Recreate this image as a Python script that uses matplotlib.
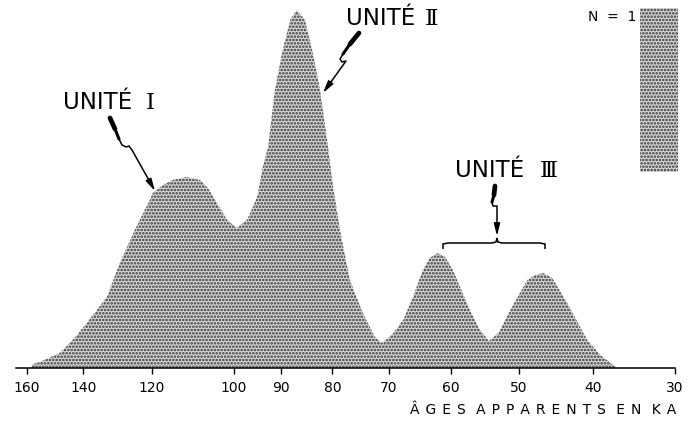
# -*- coding: utf-8 -*-
import numpy as np
import matplotlib
matplotlib.use('Agg')
import matplotlib.pyplot as plt
from matplotlib.path import Path
from matplotlib.patches import FancyArrowPatch, PathPatch, Rectangle
from matplotlib.lines import Line2D
from matplotlib.ticker import NullLocator
from matplotlib.transforms import Affine2D

# summed age spectrum: apparent age (ka) vs density (arbitrary units)
ages = [158.5, 157.6, 155.0, 147.9, 143.5, 138.9, 132.7, 128.9, 124.6, 120.5,
        119.7, 117.0, 114.5, 111.0, 107.8, 105.9, 103.8, 101.5, 99.3, 97.1,
        95.8, 94.9, 93.7, 92.6, 91.2, 89.6, 88.1, 86.8, 85.2, 83.8,
        82.3, 80.8, 79.9, 78.6, 76.8, 74.5, 72.4, 71.2, 69.5, 67.6,
        66.0, 64.4, 63.3, 62.0, 60.9, 59.7, 57.1, 55.6, 54.3, 52.9,
        51.2, 48.8, 47.7, 46.6, 45.4, 43.4, 40.8, 39.1, 37.5, 37.0]
density = [0, 4, 6, 15, 28, 45, 71, 105, 138, 168,
           175, 183, 188, 191, 188, 180, 165, 148, 140, 148,
           161, 171, 201, 221, 278, 318, 348, 358, 348, 318,
           278, 221, 183, 138, 88, 55, 31, 25, 33, 48,
           71, 98, 110, 115, 111, 98, 58, 38, 27, 35,
           58, 88, 93, 95, 90, 65, 28, 13, 3, 0]
unit_height = 164  # height of a single sample (N = 1)

tick_ages = [160, 140, 120, 100, 90, 80, 70, 60, 50, 40, 30]
unit_word = 'UNITÉ'
numerals = ['Ⅰ', 'Ⅱ', 'Ⅲ']
xlabel = 'ÂGES APPARENTS EN KA'

W, H = 696, 425
K = 0.0092  # compression of the age axis (older ages squeezed)


def fwd(a):
    return -np.exp(-K * np.asarray(a, float))


def inv(v):
    v = np.asarray(v, float)
    with np.errstate(invalid='ignore', divide='ignore'):
        return -np.log(-v) / K


def spaced(s, gap='\u2004\u200a'):
    # wide letter spacing for the caption
    return (' ' + gap).join(gap.join(word) for word in s.split())


plt.rcParams['hatch.linewidth'] = 1.25
STIPPLE = dict(facecolor='#d8d8d8', edgecolor='#303030', hatch='.....', linewidth=0)

fig = plt.figure(figsize=(W / 100, H / 100), dpi=100)
ax = fig.add_axes([16 / W, 57 / H, 659 / W, 368 / H])
ax.patch.set_visible(False)
ax.set_xscale('function', functions=(fwd, inv))
ax.set_xlim(164.2, 30)
ax.set_ylim(0, 368)

ax.fill_between(ages, 0, density, **STIPPLE)

ax.set_xticks(tick_ages)
ax.set_xticklabels([str(t) for t in tick_ages])
ax.xaxis.set_minor_locator(NullLocator())
ax.tick_params(axis='x', direction='out', length=4, width=1, pad=5, labelsize=10)
ax.set_yticks([])
for side in ('left', 'right', 'top'):
    ax.spines[side].set_visible(False)
ax.spines['bottom'].set_linewidth(1.1)

# pixel coordinates, origin top-left, for the annotations
px = Affine2D().scale(1 / W, -1 / H).translate(0, 1) + fig.transFigure

fig.text(676, 410, spaced(xlabel), transform=px, ha='right', va='center', fontsize=10)

# N = 1 scale bar
fig.add_artist(Rectangle((640, 8), 38, unit_height, transform=px, **STIPPLE))
fig.text(636, 17, 'N  =  1', transform=px, ha='right', va='center', fontsize=10)

# unit labels: word in sans, roman numeral in serif
label_pos = [(63, 146, 109), (346, 425, 25), (455, 540, 177)]
for num, (xw, xn, yb) in zip(numerals, label_pos):
    fig.text(xw, yb, unit_word, transform=px, fontsize=16.5, va='baseline')
    fig.text(xn, yb, num, transform=px, fontsize=16.5, va='baseline',
             family='DejaVu Serif')


def bolt(thick, thin):
    # lightning-style pointer: heavy stroke, then a thin line ending in an arrow
    xs, ys = zip(*thick)
    fig.add_artist(Line2D(xs[:2], ys[:2], transform=px, color='black', lw=3.4,
                          solid_capstyle='round'))
    fig.add_artist(Line2D(xs[1:], ys[1:], transform=px, color='black', lw=2.2,
                          solid_capstyle='round'))
    codes = [Path.MOVETO] + [Path.LINETO] * (len(thin) - 1)
    fig.add_artist(FancyArrowPatch(path=Path(thin, codes), transform=px,
                                   arrowstyle='-|>,head_length=0.6,head_width=0.15',
                                   mutation_scale=12, color='black', lw=1.1))


bolt([(110, 118), (115, 129), (119, 139)],
     [(119, 139), (122, 145), (126, 147), (129, 146), (132, 150), (155, 191)])
bolt([(359, 33), (350, 44), (343, 54)],
     [(343, 54), (340, 59), (342, 62), (346, 61), (323, 93)])
bolt([(495, 186), (494, 195), (492, 202)],
     [(492, 202), (493, 206), (497, 206), (497, 236)])

# brace over unit III
brace = [(443, 249), (443, 244), (448, 243), (492, 243), (496, 242), (497, 238),
         (498, 242), (502, 243), (540, 243), (545, 244), (545, 249)]
fig.add_artist(PathPatch(Path(brace), transform=px, fill=False, lw=1.1, color='black'))

fig.savefig('out.png', dpi=100)
